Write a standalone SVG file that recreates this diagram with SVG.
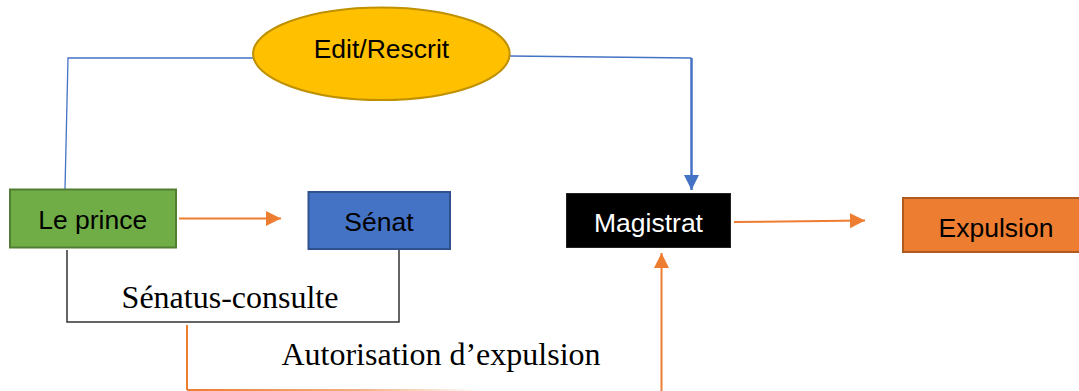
<svg xmlns="http://www.w3.org/2000/svg" width="1079" height="391" viewBox="0 0 1079 391">
  <style>
    .lbl { font-family: "Liberation Sans", Arial, sans-serif; font-size: 26.5px; text-anchor: middle; fill: #000; }
    .serif { font-family: "Liberation Serif", "Times New Roman", serif; font-size: 32px; text-anchor: middle; fill: #000; }
    .blue { fill: none; stroke: #4472C4; }
    .orange { fill: none; stroke: #ED7D31; stroke-width: 2; }
  </style>
  <defs>
    <marker id="ahBlue" markerUnits="userSpaceOnUse" markerWidth="16" markerHeight="16" refX="15" refY="7.5" orient="auto">
      <path d="M0,0 L15,7.5 L0,15 Z" fill="#4472C4"/>
    </marker>
    <marker id="ahOrange" markerUnits="userSpaceOnUse" markerWidth="16" markerHeight="16" refX="15" refY="7.5" orient="auto">
      <path d="M0,0 L15,7.5 L0,15 Z" fill="#ED7D31"/>
    </marker>
    <linearGradient id="fade" gradientUnits="userSpaceOnUse" x1="187" y1="0" x2="480" y2="0">
      <stop offset="0" stop-color="#ED7D31" stop-opacity="1"/>
      <stop offset="0.6" stop-color="#ED7D31" stop-opacity="0.6"/>
      <stop offset="1" stop-color="#ED7D31" stop-opacity="0"/>
    </linearGradient>
  </defs>

  <g id="connectors">
    <path class="blue" stroke-width="1.3" d="M253,58 H68 L65,189"/>
    <path class="blue" stroke-width="1.3" d="M509.5,56 L691.5,58"/>
    <path class="blue" stroke-width="2.5" d="M691.5,58 V190" marker-end="url(#ahBlue)"/>
    <path class="orange" d="M179,218.5 H281" marker-end="url(#ahOrange)"/>
    <path class="orange" d="M734,222 L865,220.5" marker-end="url(#ahOrange)"/>
    <path d="M67,250 V322 H399 V249" fill="none" stroke="#333" stroke-width="1.5"/>
    <path class="orange" d="M187,325 V390"/>
    <path d="M187,390 H480" fill="none" stroke="url(#fade)" stroke-width="2"/>
    <path class="orange" d="M661.5,391 V253" marker-end="url(#ahOrange)"/>
  </g>

  <g id="edit-rescrit">
    <ellipse cx="381.4" cy="53.7" rx="128.3" ry="46.3" fill="#FFC000" stroke="#BF9000" stroke-width="2"/>
    <text class="lbl" x="381.4" y="58">Edit/Rescrit</text>
  </g>

  <g id="le-prince">
    <rect x="10" y="189.5" width="166" height="58" fill="#70AD47" stroke="#507E32" stroke-width="2"/>
    <text class="lbl" x="92.7" y="229.3">Le prince</text>
  </g>

  <g id="senat">
    <rect x="308.5" y="192" width="141.5" height="57" fill="#4472C4" stroke="#2F528F" stroke-width="2"/>
    <text class="lbl" x="379" y="230.5">Sénat</text>
  </g>

  <g id="magistrat">
    <rect x="566.5" y="193.5" width="164" height="54" fill="#000" stroke="#222" stroke-width="1"/>
    <text class="lbl" x="648.5" y="232" style="fill:#fff">Magistrat</text>
  </g>

  <g id="expulsion">
    <rect x="903" y="198" width="190" height="54" fill="#ED7D31" stroke="#AE5A21" stroke-width="2"/>
    <text class="lbl" x="996" y="236.7">Expulsion</text>
  </g>

  <g id="senatus-consulte">
    <text class="serif" x="230" y="308">Sénatus-consulte</text>
  </g>

  <g id="autorisation">
    <text class="serif" x="441" y="365">Autorisation d’expulsion</text>
  </g>
</svg>
